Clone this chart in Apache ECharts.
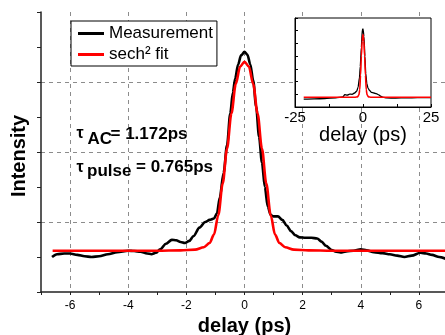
<!DOCTYPE html>
<html><head><meta charset="utf-8">
<script src="https://cdn.jsdelivr.net/npm/echarts@6/dist/echarts.min.js"></script>
<style>html,body{margin:0;padding:0;background:#fff}#c{width:445px;height:335px}</style>
</head><body><div id="c"></div>
<script>
// Main plot: measurement (black)
const measX = [-6.62,-6.45,-6.2,-6.0,-5.75,-5.5,-5.26,-5.0,-4.7,-4.38,-4.0,-3.8,-3.58,-3.35,-3.2,-3.05,-2.9,-2.7,-2.5,-2.35,-2.2,-2.05,-1.9,-1.75,-1.55,-1.35,-1.2,-1.05,-0.95,-0.85,-0.72,-0.6,-0.49,-0.4,-0.32,-0.22,-0.12,0,0.1,0.2,0.3,0.4,0.5,0.6,0.7,0.8,0.9,1.0,1.15,1.3,1.45,1.6,1.75,1.9,2.1,2.3,2.5,2.65,2.8,3.0,3.15,3.3,3.5,3.75,4.0,4.2,4.45,4.75,5.0,5.25,5.5,5.75,6.05,6.25,6.45,6.7,6.95];
const measY = [0.50,0.54,0.55,0.55,0.53,0.51,0.50,0.51,0.54,0.57,0.59,0.585,0.575,0.55,0.54,0.56,0.61,0.69,0.745,0.74,0.715,0.70,0.73,0.80,0.92,1.00,1.03,1.05,1.12,1.35,1.70,2.10,2.55,2.85,3.05,3.25,3.38,3.43,3.39,3.25,3.02,2.65,2.22,1.85,1.50,1.22,1.10,1.08,1.08,1.03,0.95,0.87,0.81,0.78,0.775,0.775,0.765,0.72,0.66,0.60,0.575,0.565,0.58,0.59,0.61,0.595,0.57,0.555,0.54,0.52,0.50,0.52,0.56,0.55,0.53,0.50,0.47];
// Main plot: sech^2 fit (red)
const fitX = [-6.6,-3.0,-2.2,-1.7,-1.4,-1.2,-1.05,-0.9,-0.75,-0.6,-0.45,-0.3,-0.15,0,0.15,0.3,0.45,0.6,0.75,0.9,1.05,1.2,1.4,1.7,2.2,3.0,7.0];
const fitY = [0.59,0.59,0.595,0.605,0.64,0.70,0.82,1.10,1.55,2.05,2.55,2.97,3.22,3.29,3.22,2.97,2.55,2.05,1.55,1.10,0.82,0.70,0.64,0.605,0.595,0.59,0.59];
// Inset: measurement and fit over wide delay range
const insetMeasX = [-21.8,-18,-14,-10,-7.4,-6.7,-5.8,-4.9,-4.0,-3.1,-2.3,-1.8,-1.3,-1.0,-0.6,-0.25,0,0.35,0.7,1.0,1.4,1.84,2.4,3.1,4.0,4.9,5.8,6.7,7.6,8.6,12,16,20,24.9];
const insetMeasY = [0.62,0.64,0.66,0.72,0.79,0.97,0.93,1.02,1.0,1.10,1.25,1.57,2.3,3.2,4.7,6.08,6.14,5.56,4.0,2.67,1.85,1.49,1.30,1.15,1.10,1.05,0.95,0.83,0.75,0.71,0.70,0.72,0.73,0.74];
const insetFitX = [-21.8,-3,-2,-1.5,-1.2,-0.9,-0.6,-0.3,0,0.3,0.6,0.9,1.2,1.5,2.0,3,25];
const insetFitY = [0.77,0.77,0.80,0.95,1.36,2.5,4.0,5.2,5.69,5.2,4.0,2.5,1.36,0.95,0.80,0.77,0.77];
// Tick labels
const mainXLabels = [-6,-4,-2,0,2,4,6];
const insetXLabels = [-25,0,25];
const seriesNames = ['Measurement','sech\u00B2 fit'];

const pairs = (xs, ys) => xs.map((x, i) => [x, ys[i]]);
const FONT = '"Liberation Sans", Arial, sans-serif';
const GRID_GRAY = '#8c8c8c';
const T = 'rgba(0,0,0,0)';

const chart = echarts.init(document.getElementById('c'), null, {renderer: 'canvas'});
chart.setOption({
  animation: false,
  backgroundColor: '#fff',
  textStyle: {fontFamily: FONT, color: '#000'},
  grid: [
    {left: 41, top: 12, width: 407, height: 280, show: false, outerBoundsMode: 'none', containLabel: false},
    {left: 295, top: 18, width: 136, height: 89, show: true, backgroundColor: '#fff', borderColor: '#000', borderWidth: 1, z: 3, outerBoundsMode: 'none', containLabel: false}
  ],
  xAxis: [
    {
      type: 'value', gridIndex: 0, min: -7, max: 7, interval: 1,
      axisLine: {onZero: false, lineStyle: {color: '#222', width: 1.5}},
      axisTick: {show: true, length: 3, lineStyle: {color: '#222', width: 1}},
      axisLabel: {fontSize: 12, color: '#000', margin: 8, fontFamily: FONT, hideOverlap: false,
        formatter: v => mainXLabels.includes(v) ? String(v) : ''},
      splitLine: {show: true, lineStyle: {type: [4, 4], width: 1, color: [T, GRID_GRAY]}},
      name: 'delay (ps)', nameLocation: 'middle', nameGap: 21,
      nameTextStyle: {fontSize: 20, fontWeight: 'bold', color: '#000', fontFamily: FONT}
    },
    {
      type: 'value', gridIndex: 1, min: -25, max: 25, interval: 25, z: 4,
      axisLine: {onZero: false, lineStyle: {color: '#000', width: 1}},
      axisTick: {show: true, inside: true, length: 3, lineStyle: {color: '#000'}},
      minorTick: {show: true, splitNumber: 2, length: 3, lineStyle: {color: '#000'}},
      axisLabel: {fontSize: 15, color: '#000', margin: 3, fontFamily: FONT, hideOverlap: false,
        formatter: v => insetXLabels.includes(v) ? String(v) : ''},
      splitLine: {show: false},
      name: 'delay (ps)', nameLocation: 'middle', nameGap: 18,
      nameTextStyle: {fontSize: 20, color: '#000', fontFamily: FONT}
    }
  ],
  yAxis: [
    {
      type: 'value', gridIndex: 0, min: 0, max: 4, interval: 1,
      axisLine: {show: true, onZero: false, lineStyle: {color: '#222', width: 1.5}},
      axisTick: {show: true, length: 4, lineStyle: {color: '#222', width: 1}},
      minorTick: {show: true, splitNumber: 2, length: 4, lineStyle: {color: '#222', width: 1}},
      axisLabel: {show: false},
      splitLine: {show: true, lineStyle: {type: [4, 4], width: 1, color: [T, GRID_GRAY, GRID_GRAY, GRID_GRAY, T]}}
    },
    {
      type: 'value', gridIndex: 1, min: 0, max: 7, interval: 1, z: 4,
      axisLine: {show: true, onZero: false, lineStyle: {color: '#000', width: 1}},
      axisTick: {show: true, inside: true, length: 3, lineStyle: {color: '#000'}},
      axisLabel: {show: false},
      splitLine: {show: false}
    }
  ],
  legend: {
    data: seriesNames,
    orient: 'vertical', left: 71, top: 21,
    icon: 'rect', itemWidth: 26, itemHeight: 3, itemGap: 4,
    padding: [4, 4, 3, 7],
    backgroundColor: '#fff', borderColor: '#000', borderWidth: 1, borderRadius: 0,
    textStyle: {fontSize: 17, color: '#000', fontFamily: FONT},
    z: 10
  },
  series: [
    {name: seriesNames[0], type: 'line', xAxisIndex: 0, yAxisIndex: 0, data: pairs(measX, measY),
     symbol: 'none', smooth: 0.3, smoothMonotone: 'x', z: 2, color: '#000',
     lineStyle: {color: '#000', width: 2.6}},
    {name: seriesNames[1], type: 'line', xAxisIndex: 0, yAxisIndex: 0, data: pairs(fitX, fitY),
     symbol: 'none', smooth: 0.3, smoothMonotone: 'x', z: 3, color: '#f00',
     lineStyle: {color: '#f00', width: 2.6}},
    {name: 'inset meas', type: 'line', xAxisIndex: 1, yAxisIndex: 1, data: pairs(insetMeasX, insetMeasY),
     symbol: 'none', smooth: 0.2, smoothMonotone: 'x', z: 6, color: '#000',
     lineStyle: {color: '#000', width: 1.3}},
    {name: 'inset fit', type: 'line', xAxisIndex: 1, yAxisIndex: 1, data: pairs(insetFitX, insetFitY),
     symbol: 'none', smooth: 0.3, smoothMonotone: 'x', z: 7, color: '#f00',
     lineStyle: {color: '#f00', width: 1.6}}
  ],
  graphic: [
    {type: 'text', x: 19, y: 156, rotation: Math.PI / 2, z: 20,
     style: {text: 'Intensity', fontSize: 20, fontWeight: 'bold', fontFamily: FONT, fill: '#000', align: 'center', verticalAlign: 'middle'}},
    {type: 'text', x: 76.5, y: 133.5, z: 20,
     style: {text: '\u03C4', fontSize: 16, fontWeight: 'bold', fontFamily: FONT, fill: '#000', align: 'left', verticalAlign: 'middle'}},
    {type: 'text', x: 87.5, y: 139.3, z: 20,
     style: {text: 'AC', fontSize: 17, fontWeight: 'bold', fontFamily: FONT, fill: '#000', align: 'left', verticalAlign: 'middle'}},
    {type: 'text', x: 110.5, y: 134.4, z: 20,
     style: {text: '= 1.172ps', fontSize: 17, fontWeight: 'bold', fontFamily: FONT, fill: '#000', align: 'left', verticalAlign: 'middle'}},
    {type: 'text', x: 76.5, y: 167.5, z: 20,
     style: {text: '\u03C4', fontSize: 16, fontWeight: 'bold', fontFamily: FONT, fill: '#000', align: 'left', verticalAlign: 'middle'}},
    {type: 'text', x: 87, y: 171.1, z: 20,
     style: {text: 'pulse', fontSize: 17, fontWeight: 'bold', fontFamily: FONT, fill: '#000', align: 'left', verticalAlign: 'middle'}},
    {type: 'text', x: 136, y: 167.6, z: 20,
     style: {text: '= 0.765ps', fontSize: 17, fontWeight: 'bold', fontFamily: FONT, fill: '#000', align: 'left', verticalAlign: 'middle'}}
  ]
});
</script>
</body></html>
